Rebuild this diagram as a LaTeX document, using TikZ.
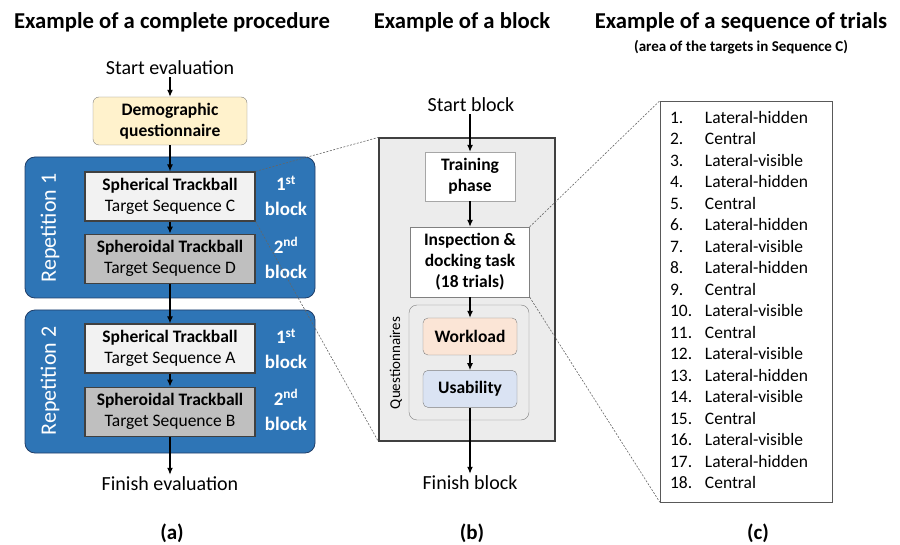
\documentclass[tikz,border=0pt]{standalone}
\usepackage{fontspec}
\setmainfont{Carlito}
\usetikzlibrary{arrows.meta, positioning}
\definecolor{RepBlue}{RGB}{46,117,182}
\definecolor{RepNavy}{RGB}{32,62,105}
\definecolor{DemoYellow}{RGB}{255,242,204}
\definecolor{BoxLight}{RGB}{242,242,242}
\definecolor{BoxGray}{RGB}{191,191,191}
\definecolor{BlockGray}{RGB}{236,236,236}
\definecolor{WorkPeach}{RGB}{251,229,214}
\definecolor{UsabBlue}{RGB}{218,227,243}

\begin{document}
\begin{tikzpicture}[x=1pt,y=-1pt,
	title/.style={font=\fontsize{22.7}{27}\selectfont\bfseries},
	subtitle/.style={font=\fontsize{15}{18}\selectfont\bfseries},
	plain/.style={font=\fontsize{20}{24}\selectfont,inner sep=2pt},
	caption/.style={font=\fontsize{21}{25}\selectfont\bfseries},
	demo/.style={draw=gray,fill=DemoYellow,rounded corners=6pt,minimum width=154,minimum height=48,align=center,font=\fontsize{17.5}{21}\selectfont\bfseries},
	rep/.style={draw=RepNavy,thick,fill=RepBlue,rounded corners=10pt,minimum width=290},
	replab/.style={text=white,font=\fontsize{22}{26}\selectfont},
	sph/.style={draw=black!75,line width=1.2pt,fill=BoxLight,minimum width=170,minimum height=49,align=center,font=\fontsize{17.5}{21}\selectfont},
	spd/.style={sph,fill=BoxGray},
	ord/.style={text=white,align=center,font=\fontsize{19}{25}\selectfont\bfseries},
	blockbg/.style={draw=black!75,line width=1.2pt,fill=BlockGray,minimum width=176,minimum height=303},
	task/.style={draw=gray!70,fill=white,align=center,font=\fontsize{17.5}{21}\selectfont\bfseries},
	quest/.style={draw=gray,fill=BlockGray,rounded corners=8pt,minimum width=120,minimum height=115},
	qbox/.style={draw=gray,rounded corners=5pt,minimum width=94,minimum height=37,font=\fontsize{17.5}{21}\selectfont\bfseries},
	qlab/.style={font=\fontsize{15}{18}\selectfont},
	seqbox/.style={draw=black!65,fill=white,minimum width=172,minimum height=401,inner xsep=10pt,inner ysep=0pt,text width=152,align=left,font=\fontsize{17.5}{21.5}\selectfont},
	flow/.style={-{Latex[length=7pt,width=6pt]},line width=1.2pt},
	zoomline/.style={draw=gray!80!black,line width=0.6pt,dash pattern=on 2pt off 1.5pt}]
\useasboundingbox (0,0) rectangle (900,545);

% titles
\node[title] (titleA) at (172,22) {Example of a complete procedure};
\node[title] (titleB) at (462,22) {Example of a block};
\node[title] (titleC) at (741,22) {Example of a sequence of trials};
\node[subtitle] (subC) at (741,47) {(area of the targets in Sequence C)};

% (a) complete procedure
\node[plain] (startA) at (170,68) {Start evaluation};
\node[demo] (demo) at (170,121) {Demographic\\questionnaire};
\node[rep,minimum height=141] (rep1) at (170,227.5) {};
\node[rep,minimum height=143] (rep2) at (170,381.5) {};
\node[replab,rotate=90] (replab1) at (50,228) {Repetition 1};
\node[replab,rotate=90] (replab2) at (50,381) {Repetition 2};
\node[sph] (sph1) at (170,196.5) {\textbf{Spherical Trackball}\\Target Sequence C};
\node[spd,below=12pt of sph1] (spd1) {\textbf{Spheroidal Trackball}\\Target Sequence D};
\node[sph] (sph2) at (170,348.5) {\textbf{Spherical Trackball}\\Target Sequence A};
\node[spd,below=13pt of sph2] (spd2) {\textbf{Spheroidal Trackball}\\Target Sequence B};
\node[ord] (ord1) at (286,196) {1\textsuperscript{st}\\block};
\node[ord] (ord2) at (286,258) {2\textsuperscript{nd}\\block};
\node[ord] (ord3) at (286,349) {1\textsuperscript{st}\\block};
\node[ord] (ord4) at (286,410) {2\textsuperscript{nd}\\block};
\node[plain] (finishA) at (170,484) {Finish evaluation};
\draw[flow] (startA) -- (demo);
\draw[flow] (demo) -- (sph1);
\draw[flow] (sph1) -- (spd1);
\draw[flow] (spd1) -- (sph2);
\draw[flow] (sph2) -- (spd2);
\draw[flow] (spd2) -- (finishA);

% (b) one block
\node[plain] (startB) at (471,105) {Start block};
\node[blockbg] (blk) at (467,289.5) {};
\node[task,minimum width=90,minimum height=49] (train) at (470,176.5) {Training\\phase};
\node[task,draw=gray,minimum width=119,minimum height=70] (insp) at (470,262) {Inspection \&\\docking task\\(18 trials)};
\node[quest] (quest) at (469,362.5) {};
\node[qbox,fill=WorkPeach] (work) at (470,336.5) {Workload};
\node[qbox,fill=UsabBlue,below=15pt of work] (usab) {Usability};
\node[qlab,rotate=90] (qlab) at (396,363) {Questionnaires};
\node[plain] (finishB) at (470,483) {Finish block};
\draw[flow] (startB.south -| train.north) -- (train);
\draw[flow] (train) -- (insp);
\draw[flow] (insp) -- (work);
\draw[flow] (work) -- (usab);
\draw[flow] (usab) -- (finishB);

% (c) sequence of trials
\node[seqbox] (seq) at (746,301.5) {\begin{tabular}{@{}p{35pt}@{}l@{}}
1. & Lateral-hidden\\
2. & Central\\
3. & Lateral-visible\\
4. & Lateral-hidden\\
5. & Central\\
6. & Lateral-hidden\\
7. & Lateral-visible\\
8. & Lateral-hidden\\
9. & Central\\
10. & Lateral-visible\\
11. & Central\\
12. & Lateral-visible\\
13. & Lateral-hidden\\
14. & Lateral-visible\\
15. & Central\\
16. & Lateral-visible\\
17. & Lateral-hidden\\
18. & Central
\end{tabular}};

% zoom lines
\draw[zoomline] (sph1.north east) -- (blk.north west);
\draw[zoomline] (sph1.south east) -- (blk.south west);
\draw[zoomline] (insp.north east) -- (seq.north west);
\draw[zoomline] (insp.south east) -- (seq.south west);

% captions
\node[caption] (capA) at (172,533) {(a)};
\node[caption] (capB) at (472,533) {(b)};
\node[caption] (capC) at (758,533) {(c)};
\end{tikzpicture}
\end{document}
